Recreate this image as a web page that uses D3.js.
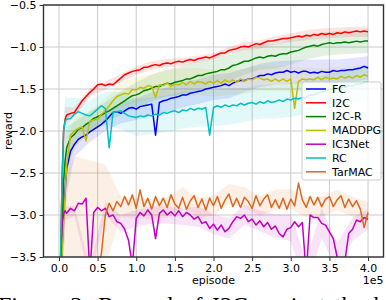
<!DOCTYPE html>
<html>
<head>
<meta charset="utf-8">
<script src="https://cdnjs.cloudflare.com/ajax/libs/d3/7.8.5/d3.min.js"></script>
<style>
	html, body { margin: 0; padding: 0; background: #fff; overflow: hidden; }
	svg { display: block; }
	text { font-family: "DejaVu Sans", sans-serif; }
</style>
</head>
<body>
<svg id="chart" width="386" height="300"></svg>
<script>
	// x grid of the curves, dense at the start where every method rises fast
	var episodes = [0, 2000, 4000, 6000, 8000].concat(d3.range(10000, 400001, 5000));
	// coarser grid for the std bands
	var bandEpisodes = [0, 4000, 8000, 10000].concat(d3.range(20000, 400001, 20000));

	var xTicks = d3.range(0, 400001, 50000);
	var yTicks = [-3.5, -3.0, -2.5, -2.0, -1.5, -1.0, -0.5];

	var seriesNames = ['FC', 'I2C', 'I2C-R', 'MADDPG', 'IC3Net', 'RC', 'TarMAC'];
	var seriesColors = ['#0000ff', '#ff0000', '#008000', '#bfbf00', '#bf00bf', '#00bfbf', '#d8691e'];

	var fcReward = [
		-4.8, -4.0, -3.4, -3.0, -2.7, -2.45, -2.24, -2.16, -2.10, -2.07,
		-2.05, -2.01, -1.98, -1.95, -1.92, -1.88, -1.83, -1.78, -1.77, -1.79,
		-1.76, -1.73, -1.72, -1.74, -1.71, -1.70, -1.69, -1.68, -2.05, -1.66,
		-1.64, -1.63, -1.61, -1.60, -1.59, -1.57, -1.57, -1.55, -1.54, -1.53,
		-1.52, -1.50, -1.49, -1.48, -1.47, -1.46, -1.44, -1.46, -1.43, -1.41,
		-1.40, -1.40, -1.38, -1.38, -1.36, -1.34, -1.34, -1.32, -1.33, -1.31,
		-1.30, -1.30, -1.28, -1.30, -1.29, -1.31, -1.29, -1.29, -1.31, -1.30,
		-1.31, -1.29, -1.30, -1.30, -1.28, -1.29, -1.28, -1.28, -1.27, -1.27,
		-1.26, -1.25, -1.23, -1.25
	];
	var i2cReward = [
		-4.5, -3.6, -2.6, -2.0, -1.86, -1.81, -1.79, -1.78, -1.71, -1.64,
		-1.59, -1.54, -1.50, -1.45, -1.44, -1.46, -1.44, -1.45, -1.41, -1.37,
		-1.33, -1.31, -1.29, -1.28, -1.27, -1.24, -1.24, -1.22, -1.21, -1.22,
		-1.20, -1.19, -1.20, -1.18, -1.17, -1.18, -1.16, -1.15, -1.16, -1.14,
		-1.13, -1.12, -1.13, -1.11, -1.09, -1.07, -1.07, -1.04, -1.03, -1.02,
		-1.00, -0.99, -1.00, -0.98, -0.96, -0.97, -0.95, -0.93, -0.93, -0.92,
		-0.91, -0.90, -0.90, -0.89, -0.88, -0.87, -0.88, -0.86, -0.87, -0.85,
		-0.86, -0.84, -0.85, -0.84, -0.85, -0.83, -0.84, -0.82, -0.83, -0.82,
		-0.81, -0.82, -0.81, -0.82
	];
	var i2cRReward = [
		-4.5, -3.8, -3.2, -2.6, -2.35, -2.2, -2.08, -2.04, -1.98, -1.96,
		-1.92, -1.89, -1.85, -1.83, -1.81, -1.78, -1.76, -1.73, -1.70, -1.67,
		-1.64, -1.61, -1.58, -1.57, -1.55, -1.52, -1.51, -1.49, -1.47, -1.47,
		-1.45, -1.43, -1.44, -1.42, -1.41, -1.40, -1.38, -1.38, -1.36, -1.34,
		-1.34, -1.32, -1.31, -1.30, -1.29, -1.27, -1.27, -1.25, -1.22, -1.21,
		-1.19, -1.17, -1.17, -1.15, -1.13, -1.12, -1.13, -1.11, -1.10, -1.11,
		-1.09, -1.08, -1.08, -1.06, -1.05, -1.04, -1.02, -1.00, -0.99, -0.98,
		-0.99, -0.97, -0.96, -0.95, -0.96, -0.95, -0.95, -0.94, -0.95, -0.94,
		-0.93, -0.94, -0.93, -0.93
	];
	var maddpgReward = [
		-4.8, -4.0, -3.5, -3.1, -2.75, -2.4, -2.05, -2.00, -1.97, -1.95,
		-2.12, -1.88, -1.87, -1.86, -1.80, -1.76, -1.70, -1.64, -1.59, -1.57,
		-1.55, -1.56, -1.51, -1.51, -1.48, -1.49, -1.46, -1.47, -1.60, -1.45,
		-1.46, -1.43, -1.47, -1.44, -1.45, -1.42, -1.45, -1.41, -1.44, -1.41,
		-1.42, -1.44, -1.41, -1.43, -1.40, -1.43, -1.39, -1.42, -1.39, -1.42,
		-1.38, -1.41, -1.38, -1.39, -1.36, -1.37, -1.39, -1.38, -1.41, -1.38,
		-1.41, -1.38, -1.41, -1.38, -1.73, -1.41, -1.38, -1.39, -1.38, -1.39,
		-1.36, -1.39, -1.36, -1.38, -1.37, -1.38, -1.35, -1.37, -1.35, -1.37,
		-1.34, -1.36, -1.33, -1.35
	];
	var ic3netReward = [
		-4.5, -3.6, -3.1, -2.99, -2.95, -2.98, -2.92, -2.95, -2.86, -2.87,
		-2.80, -3.7, -2.97, -2.91, -2.95, -2.92, -3.02, -3.00, -3.08, -3.10,
		-3.17, -3.30, -3.6, -3.04, -2.97, -3.01, -2.94, -3.00, -3.28, -2.98,
		-2.94, -3.00, -2.96, -3.01, -2.95, -3.02, -2.97, -3.00, -3.05, -3.02,
		-3.10, -3.08, -3.16, -3.11, -3.18, -3.12, -3.20, -3.16, -3.08, -3.02,
		-3.04, -3.00, -3.08, -3.05, -3.12, -3.07, -3.14, -3.09, -3.17, -3.13,
		-3.22, -3.26, -3.17, -3.15, -3.08, -3.14, -3.09, -3.7, -3.00, -3.03,
		-3.03, -3.10, -3.12, -3.20, -3.28, -3.50, -3.65, -3.55, -3.22, -3.17,
		-3.06, -3.08, -3.03, -3.05
	];
	var rcReward = [
		-4.5, -3.5, -2.6, -2.0, -1.88, -1.86, -1.85, -1.80, -1.77, -1.79,
		-1.81, -1.82, -1.78, -1.74, -1.70, -1.73, -2.20, -1.78, -1.77, -1.76,
		-1.79, -1.82, -1.83, -1.84, -1.82, -1.83, -1.81, -1.82, -1.80, -1.81,
		-1.78, -1.79, -1.77, -1.76, -1.78, -1.75, -1.76, -1.73, -1.75, -1.73,
		-1.74, -1.72, -2.05, -1.72, -1.70, -1.72, -1.69, -1.71, -1.69, -1.70,
		-1.67, -1.69, -1.67, -1.66, -1.68, -1.65, -1.67, -1.64, -1.66, -1.65,
		-1.63, -1.65, -1.62, -1.63, -1.61, -1.62, -1.60, -1.60, -1.57, -1.57,
		-1.55, -1.54, -1.52, -1.51, -1.50, -1.50, -1.48, -1.48, -1.46, -1.46,
		-1.44, -1.44, -1.42, -1.42
	];
	var tarmacReward = [
		-4.5, -4.4, -4.3, -4.2, -4.1, -4.0, -3.95, -3.9, -3.9, -3.88,
		-3.86, -3.85, -3.8, -3.75, -3.45, -3.0, -2.86, -2.95, -2.84, -2.90,
		-2.78, -2.88, -2.76, -2.92, -2.70, -2.90, -2.80, -2.93, -2.78, -2.89,
		-2.80, -2.91, -2.76, -2.87, -2.92, -2.79, -2.93, -2.83, -2.77, -2.91,
		-2.81, -2.94, -2.80, -2.89, -2.78, -2.92, -2.82, -2.75, -2.90, -2.80,
		-2.91, -2.79, -2.84, -2.92, -2.77, -2.89, -2.81, -2.76, -2.91, -2.82,
		-2.92, -2.80, -2.93, -2.81, -2.89, -2.62, -2.82, -2.91, -2.78, -2.88,
		-2.79, -2.90, -2.81, -2.78, -2.90, -2.82, -2.77, -2.91, -2.81, -2.90,
		-2.83, -2.93, -3.15, -2.97
	];

	// half width of the shaded band, one value per entry of bandEpisodes
	var fcSpread = [0.3, 0.5, 0.4, 0.3, 0.15, 0.12, 0.12, 0.12, 0.13, 0.14, 0.15, 0.15, 0.15, 0.15, 0.15, 0.14, 0.14, 0.14, 0.14, 0.14, 0.14, 0.14, 0.14, 0.14];
	var i2cSpread = [0.3, 0.4, 0.15, 0.1, 0.06, 0.05, 0.05, 0.05, 0.05, 0.05, 0.05, 0.05, 0.04, 0.04, 0.04, 0.05, 0.05, 0.05, 0.05, 0.06, 0.06, 0.06, 0.06, 0.06];
	var i2cRSpread = [0.3, 0.5, 0.3, 0.25, 0.15, 0.12, 0.12, 0.14, 0.15, 0.16, 0.16, 0.17, 0.17, 0.17, 0.16, 0.16, 0.15, 0.15, 0.15, 0.15, 0.14, 0.14, 0.14, 0.14];
	var maddpgSpread = [0.3, 0.5, 0.4, 0.3, 0.15, 0.12, 0.14, 0.15, 0.15, 0.15, 0.16, 0.16, 0.16, 0.16, 0.15, 0.15, 0.15, 0.15, 0.15, 0.14, 0.14, 0.14, 0.14, 0.14];
	var ic3netSpread = [0.3, 0.3, 0.1, 0.08, 0.06, 0.08, 0.08, 0.1, 0.1, 0.1, 0.1, 0.1, 0.12, 0.12, 0.12, 0.12, 0.12, 0.14, 0.16, 0.16, 0.18, 0.16, 0.14, 0.12];
	var rcSpread = [0.3, 0.5, 0.3, 0.25, 0.2, 0.18, 0.2, 0.22, 0.22, 0.22, 0.22, 0.22, 0.22, 0.22, 0.22, 0.2, 0.2, 0.2, 0.2, 0.2, 0.2, 0.2, 0.2, 0.2];
	var tarmacSpread = [0.3, 0.4, 1.2, 1.5, 1.6, 1.5, 0.6, 0.12, 0.12, 0.12, 0.12, 0.12, 0.12, 0.12, 0.12, 0.12, 0.12, 0.12, 0.12, 0.12, 0.12, 0.12, 0.12, 0.12];

	var seriesValues = [fcReward, i2cReward, i2cRReward, maddpgReward, ic3netReward, rcReward, tarmacReward];
	var seriesSpreads = [fcSpread, i2cSpread, i2cRSpread, maddpgSpread, ic3netSpread, rcSpread, tarmacSpread];

	(function () {
		var svg = d3.select('#chart');
		var plotLeft = 43.5, plotRight = 383.5, plotTop = 5, plotBottom = 257;

		var x = d3.scaleLinear().domain([-20000, 420000]).range([plotLeft, plotRight]);
		var y = d3.scaleLinear().domain([-3.5, -0.5]).range([plotBottom, plotTop]);

		svg.append('defs').append('clipPath').attr('id', 'plot-clip')
			.append('rect')
			.attr('x', plotLeft).attr('y', plotTop)
			.attr('width', plotRight - plotLeft).attr('height', plotBottom - plotTop);

		// grid
		var grid = svg.append('g').attr('stroke', '#cbcbcb').attr('stroke-width', 1);
		grid.selectAll('line.gx').data(xTicks).enter().append('line')
			.attr('x1', function (d) { return x(d); }).attr('x2', function (d) { return x(d); })
			.attr('y1', plotTop).attr('y2', plotBottom);
		grid.selectAll('line.gy').data(yTicks).enter().append('line')
			.attr('x1', plotLeft).attr('x2', plotRight)
			.attr('y1', function (d) { return y(d); }).attr('y2', function (d) { return y(d); });

		var plot = svg.append('g').attr('clip-path', 'url(#plot-clip)');

		var area = d3.area()
			.x(function (d) { return x(d.ep); })
			.y0(function (d) { return y(d.mean - d.s); })
			.y1(function (d) { return y(d.mean + d.s); });

		seriesValues.forEach(function (values, k) {
			var band = bandEpisodes.map(function (ep, j) {
				return {ep: ep, mean: values[episodes.indexOf(ep)], s: seriesSpreads[k][j]};
			});
			plot.append('path')
				.datum(band)
				.attr('d', area)
				.attr('fill', seriesColors[k])
				.attr('fill-opacity', 0.11);
		});

		var line = d3.line()
			.x(function (d, i) { return x(episodes[i]); })
			.y(function (d) { return y(d); });

		seriesValues.forEach(function (values, k) {
			plot.append('path')
				.datum(values)
				.attr('d', line)
				.attr('fill', 'none')
				.attr('stroke', seriesColors[k])
				.attr('stroke-width', 1.5)
				.attr('stroke-linejoin', 'round');
		});

		// axes
		var xAxis = svg.append('g')
			.attr('transform', 'translate(0,' + plotBottom + ')')
			.call(d3.axisBottom(x).tickValues(xTicks).tickSize(4).tickPadding(3)
				.tickFormat(function (d) { return d3.format('.1f')(d / 1e5); }));
		var yAxis = svg.append('g')
			.attr('transform', 'translate(' + plotLeft + ',0)')
			.call(d3.axisLeft(y).tickValues(yTicks).tickSize(4).tickPadding(3)
				.tickFormat(d3.format('.1f')));
		[xAxis, yAxis].forEach(function (ax) {
			ax.select('.domain').remove();
			ax.selectAll('.tick line').attr('stroke', '#333');
			ax.selectAll('.tick text').attr('fill', '#000')
				.style('font-size', '11px').style('font-family', '"DejaVu Sans", sans-serif');
		});

		svg.append('rect')
			.attr('x', plotLeft).attr('y', plotTop)
			.attr('width', plotRight - plotLeft).attr('height', plotBottom - plotTop)
			.attr('fill', 'none').attr('stroke', '#333').attr('stroke-width', 1.4);

		svg.append('text')
			.attr('x', (plotLeft + plotRight) / 2).attr('y', 284)
			.attr('text-anchor', 'middle').attr('font-size', 11)
			.text('episode');
		svg.append('text')
			.attr('x', plotRight).attr('y', 284)
			.attr('text-anchor', 'end').attr('font-size', 11)
			.text('1e5');
		svg.append('text')
			.attr('transform', 'translate(12,' + (plotTop + plotBottom) / 2 + ') rotate(-90)')
			.attr('text-anchor', 'middle').attr('font-size', 11)
			.text('reward');

		// legend
		var legend = svg.append('g').attr('transform', 'translate(302,82)');
		legend.append('rect')
			.attr('width', 79).attr('height', 98).attr('rx', 2)
			.attr('fill', '#fff').attr('fill-opacity', 0.8)
			.attr('stroke', '#cccccc').attr('stroke-width', 1);
		var item = legend.selectAll('g.item').data(seriesNames).enter().append('g')
			.attr('transform', function (d, i) { return 'translate(0,' + (7 + i * 13.8) + ')'; });
		item.append('line')
			.attr('x1', 4).attr('x2', 24)
			.attr('stroke', function (d, i) { return seriesColors[i]; })
			.attr('stroke-width', 1.5);
		item.append('text')
			.attr('x', 30).attr('dy', '0.35em')
			.attr('font-size', 11)
			.text(function (d) { return d; });

		// caption of the paper figure, cut by the bottom edge
		svg.append('text')
			.attr('x', -2).attr('y', 313)
			.style('font-family', '"Liberation Serif", "Times New Roman", serif')
			.style('font-size', '24px')
			.style('word-spacing', '3.5px')
			.text('Figure 3: Reward of I2C against the baselines');
	})();
</script>
</body>
</html>
